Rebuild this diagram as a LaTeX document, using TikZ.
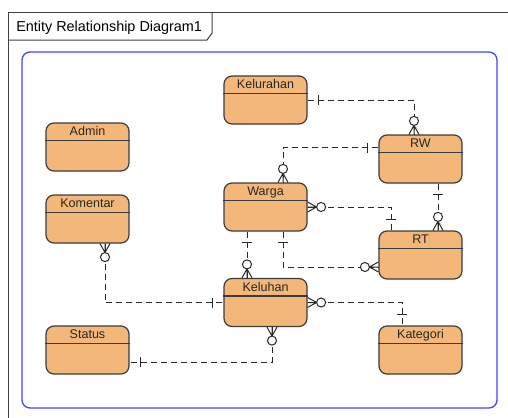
\documentclass[tikz,border=0pt]{standalone}
\usepackage{fontspec}
\setmainfont{Liberation Sans}
\usetikzlibrary{calc}
\definecolor{entfill}{RGB}{244,183,122}
\definecolor{entdraw}{RGB}{60,60,60}
\definecolor{frameblue}{RGB}{64,72,250}
\definecolor{linegray}{RGB}{40,40,40}
\tikzset{
  ent/.style={draw=entdraw, fill=entfill, line width=0.9pt, rounded corners=6pt,
    minimum width=62.25pt, minimum height=36pt, inner sep=0pt},
  enttext/.style={font=\fontsize{9.4pt}{11pt}\selectfont, inner sep=0pt, text=black!85},
  conn/.style={draw=linegray, line width=0.75pt, dash pattern=on 4.5pt off 3pt},
  connsolid/.style={draw=linegray, line width=0.75pt},
  frameline/.style={draw=black!75, line width=0.75pt}
}
\newcommand\entity[3]{%
  \node[ent] (#1) at (#2) {};
  \draw[entdraw, line width=0.9pt] ([yshift=-13.5pt]#1.north west) -- ([yshift=-13.5pt]#1.north east);
  \node[enttext, anchor=base] (#1-t) at ([yshift=-10.1pt]#1.north) {#3};
}
\newcommand\crowfoot[2]{%
  \begin{scope}[shift={#1}, rotate=#2]
    \draw[connsolid] (9,0) -- (0,-5) (9,0) -- (0,0) (9,0) -- (0,5);
    \draw[connsolid, fill=white] (13.5,0) circle[radius=3.4pt];
  \end{scope}}
\newcommand\erbar[2]{%
  \begin{scope}[shift={#1}, rotate=#2]
    \draw[connsolid] (11,-5) -- (11,5);
  \end{scope}}
\begin{document}
\begin{tikzpicture}[x=0.75pt,y=-0.75pt]
\useasboundingbox (0,0) rectangle (508,418);
\fill[white] (0,0) rectangle (508,418);
% outer frame and title tab
\draw[frameline] (8,418) -- (8,12) -- (508,12);
\draw[frameline] (8,40) -- (207,40) -- (212,33) -- (212,12);
\node[anchor=base west, inner sep=0pt, font=\fontsize{10.8pt}{13pt}\selectfont] (title) at (16,31) {Entity Relationship Diagram1};
% blue boundary
\draw[frameblue, line width=1pt, rounded corners=6pt] (22,52) rectangle (497,408);
% entities
\entity{kel}{265.5,100}{Kelurahan}
\entity{admin}{87.5,147}{Admin}
\entity{rw}{420.5,159}{RW}
\entity{warga}{265.5,207}{Warga}
\entity{kom}{87.5,219}{Komentar}
\entity{rt}{420.5,255}{RT}
\entity{kelu}{265.5,302.5}{Keluhan}
\entity{status}{87.5,350}{Status}
\entity{kat}{420.5,350}{Kategori}
% connectors
\draw[conn] (kel.east) -| ($(rw.north)+(-6.5,0)$);
\draw[conn] ($(rw.west)+(0,-11.5)$) -| ($(warga.north)+(17.5,0)$);
\draw[conn] ($(rw.south)+(17.5,0)$) -- ($(rt.north)+(17.5,0)$);
\draw[conn] (warga.east) -| ($(rt.north)+(-29.5,0)$);
\draw[conn] ($(warga.south)+(-18.5,0)$) -- ($(kelu.north)+(-18.5,0)$);
\draw[conn] ($(warga.south)+(17.5,0)$) |- ($(rt.west)+(0,12)$);
\draw[conn] ($(kom.south)+(17.5,0)$) |- (kelu.west);
\draw[conn] (kelu.east) -| ($(kat.north)+(-18.5,0)$);
\draw[conn] ($(kelu.south)+(6.5,0)$) |- ($(status.east)+(0,12)$);
% ends
\erbar{(kel.east)}{0}
\crowfoot{($(rw.north)+(-6.5,0)$)}{90}
\erbar{($(rw.west)+(0,-11.5)$)}{180}
\crowfoot{($(warga.north)+(17.5,0)$)}{90}
\erbar{($(rw.south)+(17.5,0)$)}{-90}
\crowfoot{($(rt.north)+(17.5,0)$)}{90}
\crowfoot{(warga.east)}{0}
\erbar{($(rt.north)+(-29.5,0)$)}{90}
\erbar{($(warga.south)+(-18.5,0)$)}{-90}
\crowfoot{($(kelu.north)+(-18.5,0)$)}{90}
\erbar{($(warga.south)+(17.5,0)$)}{-90}
\crowfoot{($(rt.west)+(0,12)$)}{180}
\crowfoot{($(kom.south)+(17.5,0)$)}{-90}
\erbar{(kelu.west)}{180}
\crowfoot{(kelu.east)}{0}
\erbar{($(kat.north)+(-18.5,0)$)}{90}
\crowfoot{($(kelu.south)+(6.5,0)$)}{-90}
\erbar{($(status.east)+(0,12)$)}{0}
\end{tikzpicture}
\end{document}
